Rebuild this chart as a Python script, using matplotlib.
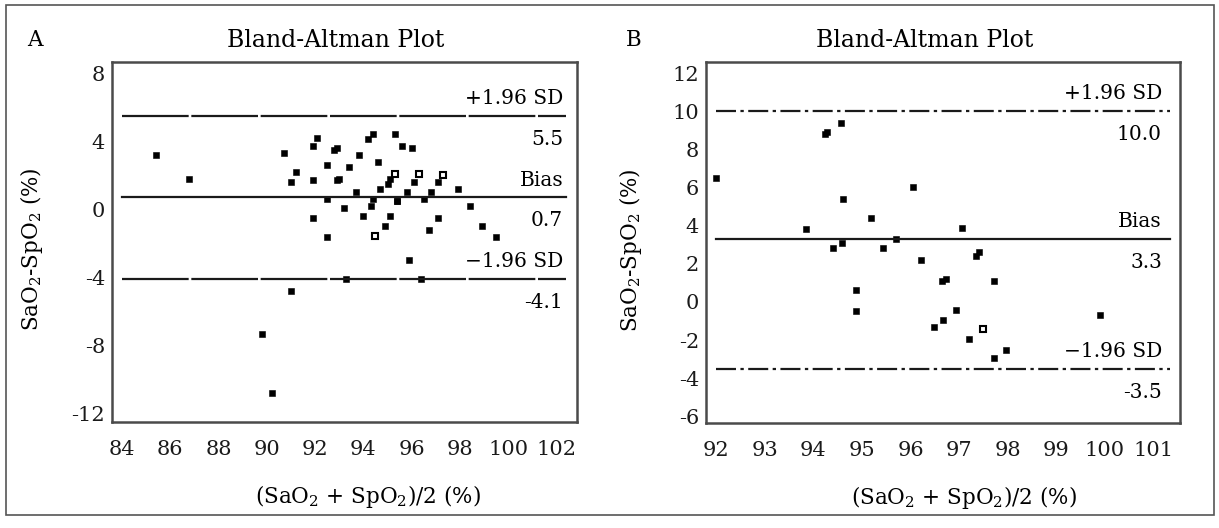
#-------------------------------------------------------------------------------
import numpy as np
import matplotlib
matplotlib.use('Agg')
import matplotlib.pyplot as plt
import matplotlib.transforms as mtransforms
from matplotlib.patches import Rectangle
#-------------------------------------------------------------------------------
# panel A : mean vs difference
a_x = [85.4, 86.8, 90.7, 91.0, 91.2, 92.1, 91.9, 91.9, 91.9, 92.5, 92.5, 92.5,
       92.9, 92.8, 93.0, 92.9, 93.2, 93.4, 93.7, 93.8, 94.0, 94.2, 94.4, 94.3,
       94.4, 94.6, 94.9, 94.7, 95.0, 95.1, 95.3, 95.1, 95.4, 95.4, 95.6, 95.8,
       95.9, 96.0, 96.1, 96.5, 96.7, 96.8, 97.1, 97.1, 97.9, 98.4, 98.9, 99.5,
       93.3, 96.4, 91.0, 89.8, 90.2]
a_y = [3.2, 1.8, 3.3, 1.6, 2.2, 4.2, 3.7, 1.7, -0.5, -1.6, 2.6, 0.6,
       3.6, 3.5, 1.8, 1.7, 0.1, 2.5, 1.0, 3.2, -0.4, 4.1, 4.4, 0.2,
       0.6, 2.8, -1.0, 1.2, 1.5, 1.8, 4.4, -0.4, 0.5, 0.5, 3.7, 1.0,
       -3.0, 3.6, 1.6, 0.6, -1.2, 1.0, 1.6, -0.5, 1.2, 0.2, -1.0, -1.6,
       -4.1, -4.1, -4.8, -7.3, -10.8]
a_open_x = [94.5, 95.3, 96.3, 97.3]
a_open_y = [-1.55, 2.1, 2.1, 2.0]
a_lines = [5.5, 0.7, -4.1]
a_line_x = [84.0, 102.4]
a_ticks_x = [84, 86, 88, 90, 92, 94, 96, 98, 100, 102]
a_ticks_y = [8, 4, 0, -4, -8, -12]
#-------------------------------------------------------------------------------
# panel B
b_x = [92.0, 93.85, 94.24, 94.29, 94.57, 94.62, 94.4, 94.58, 94.87, 94.87,
       95.19, 95.44, 95.7, 96.05, 96.22, 97.06, 96.64, 96.73, 97.35, 97.41,
       97.72, 96.94, 96.49, 96.66, 97.21, 97.72, 97.97, 99.9]
b_y = [6.5, 3.8, 8.8, 8.9, 9.4, 5.4, 2.8, 3.1, 0.6, -0.5,
       4.4, 2.8, 3.3, 6.0, 2.2, 3.9, 1.1, 1.2, 2.4, 2.6,
       1.1, -0.4, -1.3, -0.95, -1.96, -2.96, -2.5, -0.7]
b_open_x = [97.49]
b_open_y = [-1.44]
b_lines = [10.0, 3.3, -3.5]
b_line_x = [92.0, 101.35]
b_ticks_x = [92, 93, 94, 95, 96, 97, 98, 99, 100, 101]
b_ticks_y = [12, 10, 8, 6, 4, 2, 0, -2, -4, -6]
#-------------------------------------------------------------------------------
line_names = ['+1.96 SD', 'Bias', '\u22121.96 SD']
#-------------------------------------------------------------------------------
plt.rcParams['font.family'] = ['DejaVu Serif']
plt.rcParams['mathtext.fontset'] = 'dejavuserif'
fig = plt.figure(figsize=(12.19, 5.28), dpi=100)
fig.patches.append(Rectangle((0.0049, 0.0246), 0.991, 0.966, transform=fig.transFigure,
                             fill=False, edgecolor='#555555', linewidth=1.2))
#-------------------------------------------------------------------------------
def panel(rect, xs, ys, ox, oy, lines, line_x, tx, ty, xlim, ylim, letter,
          title_x, xlab_x, ylab_x, text_x, styles):
    ax = fig.add_axes(rect)
    ax.set_xlim(*xlim)
    ax.set_ylim(*ylim)
    ax.plot(xs, ys, 's', color='black', markersize=4.6, markeredgewidth=0.4)
    ax.plot(ox, oy, 's', color='black', markerfacecolor='white',
            markersize=4.6, markeredgewidth=1.5)
    tr = mtransforms.blended_transform_factory(ax.transAxes, ax.transData)
    for k, v in enumerate(lines):
        ax.plot(line_x, [v, v], color='#1a1a1a', linewidth=1.6, linestyle=styles[k])
        ax.annotate(line_names[k], xy=(text_x, v), xycoords=tr, xytext=(0, 12.5),
                    textcoords='offset points', ha='right', va='center', fontsize=14.5)
        ax.annotate('{:.1f}'.format(v), xy=(text_x, v), xycoords=tr, xytext=(0, -17),
                    textcoords='offset points', ha='right', va='center', fontsize=14.5)
    ax.set_xticks(tx)
    ax.set_yticks(ty)
    ax.set_xticklabels([str(t) for t in tx])
    ax.set_yticklabels([str(t) for t in ty])
    ax.tick_params(length=0, labelsize=15, colors='#1a1a1a')
    ax.tick_params(axis='x', pad=13)
    ax.tick_params(axis='y', pad=5)
    for s in ax.spines.values():
        s.set_color('#4a4a4a')
        s.set_linewidth(1.8)
    ax.set_title('Bland-Altman Plot', fontsize=17, x=title_x, y=1.0, pad=11)
    ax.set_xlabel(r'(SaO$_2$ + SpO$_2$)/2 (%)', fontsize=15.5)
    ax.xaxis.set_label_coords(xlab_x, -0.17)
    ax.set_ylabel(r'SaO$_2$-SpO$_2$ (%)', fontsize=15.5)
    ax.yaxis.set_label_coords(ylab_x, 0.48)
    fig.text(letter[1], 0.925, letter[0], fontsize=15.5, ha='center', va='center')
    return ax
#-------------------------------------------------------------------------------
dashA = (0, (30, 1.2))
dashB = (0, (9, 2, 1.5, 2))
panel([0.0919, 0.2008, 0.3815, 0.6818], a_x, a_y, a_open_x, a_open_y, a_lines, a_line_x,
      a_ticks_x, a_ticks_y, (83.6, 102.84), (-12.49, 8.65), ('A', 0.029),
      0.482, 0.55, -0.145, 0.970, [dashA, '-', dashA])
panel([0.5792, 0.1989, 0.3888, 0.6837], b_x, b_y, b_open_x, b_open_y, b_lines, b_line_x,
      b_ticks_x, b_ticks_y, (91.79, 101.55), (-6.35, 12.58), ('B', 0.52),
      0.462, 0.544, -0.13, 0.962, [dashB, '-', dashB])
#-------------------------------------------------------------------------------
fig.savefig('out.png', dpi=100)
#-------------------------------------------------------------------------------
